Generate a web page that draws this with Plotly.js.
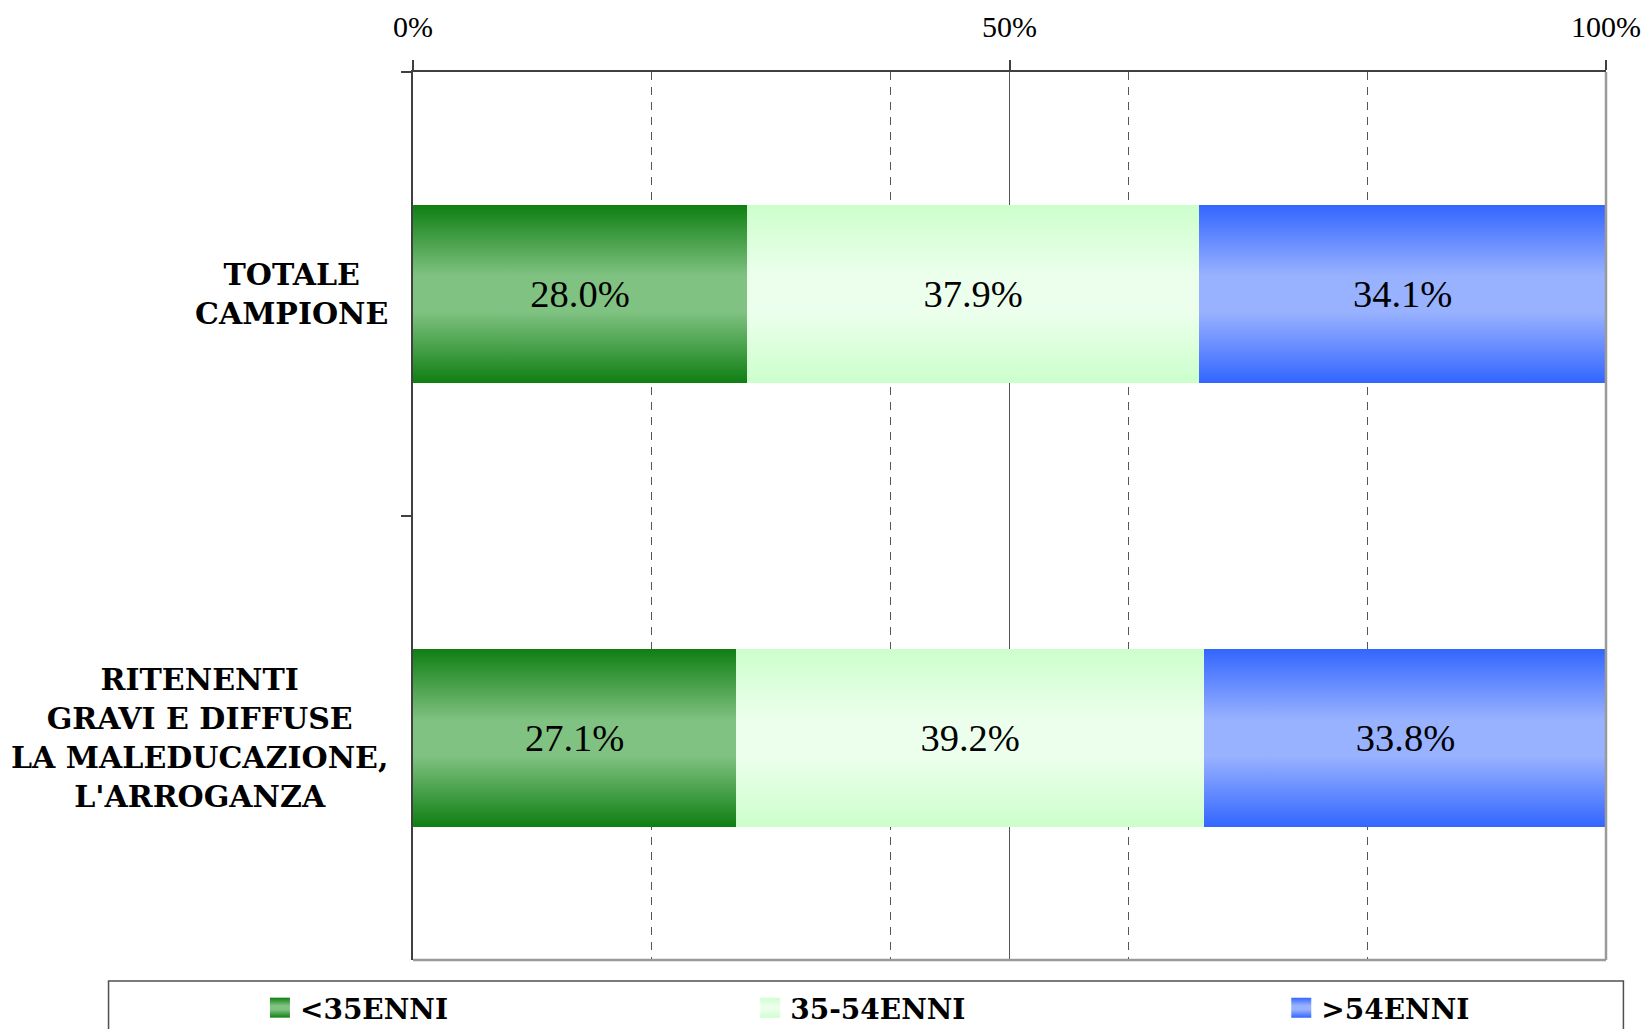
<!DOCTYPE html>
<html>
<head>
<meta charset="utf-8">
<script src="https://cdn.plot.ly/plotly-3.0.1.min.js"></script>
<style>
  html, body { margin: 0; padding: 0; background: #ffffff; }
  #chart { width: 1650px; height: 1029px; }
</style>
</head>
<body>
<div id="chart"></div>
<script>
// ---- data ----
const categories = ['TOTALE CAMPIONE', 'RITENENTI GRAVI E DIFFUSE'];
const categoryLabels = ['TOTALE<br>CAMPIONE', 'RITENENTI<br>GRAVI E DIFFUSE<br>LA MALEDUCAZIONE,<br>L\'ARROGANZA'];
const seriesNames = ['<35ENNI', '35-54ENNI', '>54ENNI'];
const under35 = [28.0, 27.1];
const from35to54 = [37.9, 39.2];
const over54 = [34.1, 33.8];
const tickValues = [0, 50, 100];
const tickLabels = ['0%', '50%', '100%'];
const minorGridValues = [20, 40, 60, 80];

// ---- styles ----
const edgeColors = ['#0f7f12', '#ccffcc', '#3366ff'];
const centerColors = ['#80c282', '#ecffec', '#99b2ff'];
const seriesValues = [under35, from35to54, over54];
const legendIds = ['legend', 'legend2', 'legend3'];

const labelFont = { family: 'Liberation Serif, Times New Roman, serif', size: 38.5, color: '#000' };
const boldFont = { family: 'DejaVu Serif, serif', size: 30, color: '#000' };
const legendFont = { family: 'DejaVu Serif, serif', size: 28, color: '#000', weight: 'bold' };

const traces = seriesValues.map((vals, i) => ({
  type: 'bar',
  orientation: 'h',
  name: seriesNames[i],
  y: categories,
  x: vals,
  marker: { color: edgeColors[i], line: { width: 0 } },
  text: vals.map(v => v.toFixed(1) + '%'),
  texttemplate: '%{text}',
  textposition: 'inside',
  insidetextanchor: 'middle',
  constraintext: 'none',
  textfont: labelFont,
  insidetextfont: labelFont,
  hoverinfo: 'skip',
  legend: legendIds[i],
  showlegend: true
}));

const legendX = [-0.1283, 0.2827, 0.7278];
const legendBase = {
  orientation: 'h',
  xanchor: 'left',
  yanchor: 'middle',
  y: -0.054,
  bgcolor: 'rgba(0,0,0,0)',
  borderwidth: 0,
  font: legendFont,
  itemclick: false,
  itemdoubleclick: false
};

const layout = {
  width: 1650,
  height: 1029,
  margin: { l: 412.7, r: 43.5, t: 71.6, b: 69, autoexpand: false },
  paper_bgcolor: '#ffffff',
  plot_bgcolor: '#ffffff',
  barmode: 'stack',
  bargap: 0.6,
  showlegend: true,
  legend: Object.assign({}, legendBase, { x: legendX[0] }),
  legend2: Object.assign({}, legendBase, { x: legendX[1] }),
  legend3: Object.assign({}, legendBase, { x: legendX[2] }),
  xaxis: {
    side: 'top',
    range: [0, 100],
    tickmode: 'array',
    tickvals: tickValues,
    ticktext: tickLabels,
    ticks: 'outside',
    ticklen: 10,
    tickwidth: 1.5,
    tickcolor: '#404040',
    ticklabelstandoff: 11,
    tickfont: { family: 'Liberation Serif, Times New Roman, serif', size: 30, color: '#000' },
    showline: true,
    linecolor: '#404040',
    linewidth: 2,
    showgrid: true,
    gridcolor: '#555555',
    gridwidth: 1,
    zeroline: false,
    fixedrange: true,
    minor: {
      tickmode: 'array',
      tickvals: minorGridValues,
      showgrid: true,
      griddash: '8px,7px',
      gridcolor: '#555555',
      gridwidth: 1,
      ticks: ''
    }
  },
  yaxis: {
    type: 'category',
    range: [1.5, -0.5],
    tickson: 'boundaries',
    ticks: 'outside',
    ticklen: 10,
    tickwidth: 1.5,
    tickcolor: '#404040',
    showticklabels: false,
    showline: true,
    linecolor: '#404040',
    linewidth: 2,
    showgrid: false,
    zeroline: false,
    fixedrange: true
  },
  annotations: categories.map((c, i) => ({
    xref: 'paper', yref: 'y',
    x: 0, y: c,
    xanchor: 'right', yanchor: 'middle',
    xshift: -23,
    align: 'center',
    showarrow: false,
    text: '<b>' + categoryLabels[i] + '</b>',
    font: boldFont
  })),
  shapes: [
    { type: 'line', xref: 'paper', yref: 'paper', x0: 0, x1: 1, y0: 0, y1: 0,
      line: { color: '#9a9a9a', width: 2.5 } },
    { type: 'line', xref: 'paper', yref: 'paper', x0: 1, x1: 1, y0: 0, y1: 1,
      line: { color: '#9a9a9a', width: 2.5 } },
    { type: 'rect', xref: 'paper', yref: 'paper', x0: -0.2552, x1: 1.0146, y0: -0.0236, y1: -0.2,
      line: { color: '#505050', width: 1.5 }, fillcolor: 'rgba(0,0,0,0)' }
  ]
};

const gd = document.getElementById('chart');

function applyGradients() {
  const svg = gd.querySelector('svg.main-svg');
  if (!svg) return;
  const NS = 'http://www.w3.org/2000/svg';
  let defs = svg.querySelector('defs#custom-grads');
  if (!defs) {
    defs = document.createElementNS(NS, 'defs');
    defs.setAttribute('id', 'custom-grads');
    svg.insertBefore(defs, svg.firstChild);
    edgeColors.forEach((edge, i) => {
      const g = document.createElementNS(NS, 'linearGradient');
      g.setAttribute('id', 'bargrad' + i);
      g.setAttribute('x1', '0'); g.setAttribute('y1', '0');
      g.setAttribute('x2', '0'); g.setAttribute('y2', '1');
      [[0, edge], [0.4, centerColors[i]], [0.6, centerColors[i]], [1, edge]].forEach(([o, c]) => {
        const s = document.createElementNS(NS, 'stop');
        s.setAttribute('offset', o);
        s.setAttribute('stop-color', c);
        g.appendChild(s);
      });
      defs.appendChild(g);
    });
  }
  gd.querySelectorAll('.barlayer .trace').forEach((tr, i) => {
    tr.querySelectorAll('.point path').forEach(p => { p.style.fill = 'url(#bargrad' + i + ')'; });
  });
  gd.querySelectorAll('g.traces').forEach(item => {
    const d = item.__data__;
    if (!d || !d[0] || !d[0].trace) return;
    const idx = d[0].trace.index;
    item.querySelectorAll('.legendpoints path').forEach(p => {
      p.setAttribute('d', 'M10,10H-10V-10H10Z');
      p.style.fill = 'url(#bargrad' + idx + ')';
      p.style.stroke = 'none';
    });
  });
}

Plotly.newPlot(gd, traces, layout, { displayModeBar: false, responsive: false })
  .then(() => {
    applyGradients();
    gd.on('plotly_afterplot', applyGradients);
  });
</script>
</body>
</html>
